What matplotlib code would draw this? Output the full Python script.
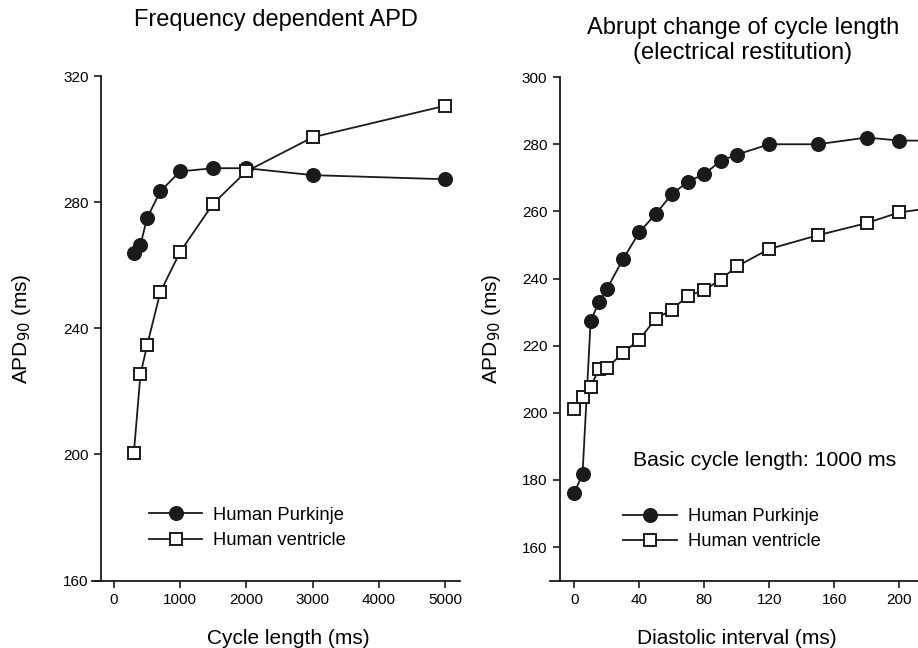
import matplotlib
matplotlib.use("Agg")
import matplotlib.pyplot as plt

plt.rcParams["font.family"] = ["Liberation Sans", "DejaVu Sans"]

# Frequency dependent APD
cycle_length = [300, 400, 500, 700, 1000, 1500, 2000, 3000, 5000]
purk_cl = [264, 266.5, 275, 283.5, 289.8, 290.8, 290.8, 288.6, 287.3]
vent_cl = [200.4, 225.4, 234.6, 251.5, 264.3, 279.6, 289.8, 300.6, 310.6]

# Electrical restitution
diastolic = [0, 5, 10, 15, 20, 30, 40, 50, 60, 70, 80, 90, 100, 120, 150, 180, 200, 250]
purk_di = [176.2, 181.7, 227.3, 232.9, 236.9, 245.8, 253.8, 259.2, 265.1, 268.9,
           271.1, 275.0, 276.9, 280.0, 280.0, 282.0, 281.1, 281.0]
vent_di = [201.2, 204.6, 207.7, 212.9, 213.3, 217.9, 221.8, 228.0, 230.7, 234.9,
           236.5, 239.7, 243.6, 248.8, 252.9, 256.5, 259.7, 263.0]

line_col = "#1a1a1a"
fs_tick = 11
fs_lab = 15
fs_title = 17
fs_leg = 13.2

fig = plt.figure(figsize=(9.18, 6.48), dpi=100)
ax1 = fig.add_axes([0.1002, 0.104, 0.401, 0.7785])
ax2 = fig.add_axes([0.599, 0.104, 0.401, 0.777])

def style(ax, spine_x):
    for s in ["top", "right"]:
        ax.spines[s].set_visible(False)
    for s in ["left", "bottom"]:
        ax.spines[s].set_linewidth(1.3)
        ax.spines[s].set_color(line_col)
    ax.spines["left"].set_position(("data", spine_x))
    ax.tick_params(direction="out", length=5, width=1.2, color=line_col,
                   labelsize=fs_tick, pad=4)

# left panel
ax1.plot(cycle_length, purk_cl, "-o", color=line_col, lw=1.3, ms=9.8,
         mfc=line_col, mec=line_col, label="Human Purkinje", zorder=3)
ax1.plot(cycle_length, vent_cl, "-s", color=line_col, lw=1.3, ms=8.5,
         mfc="white", mec=line_col, mew=1.4, label="Human ventricle", zorder=4)
ax1.set_xlim(-332, 5227)
ax1.set_ylim(160, 320)
ax1.set_xticks([0, 1000, 2000, 3000, 4000, 5000])
ax1.set_yticks([160, 200, 240, 280, 320])
style(ax1, -196)
ax1.set_title("Frequency dependent APD", fontsize=fs_title, pad=36, x=0.5)
ax1.set_xlabel("Cycle length (ms)", fontsize=fs_lab, labelpad=16, x=0.533)
ax1.set_ylabel("APD$_{90}$ (ms)", fontsize=fs_lab)
ax1.yaxis.set_label_coords(-0.16, 0.5)
ax1.legend(loc="upper left", bbox_to_anchor=(0.11, 0.179), frameon=False,
           fontsize=fs_leg, handlelength=2.9, handletextpad=0.6, labelspacing=0.45)

# right panel
ax2.plot(diastolic, purk_di, "-o", color=line_col, lw=1.3, ms=9.8,
         mfc=line_col, mec=line_col, label="Human Purkinje", zorder=3)
ax2.plot(diastolic, vent_di, "-s", color=line_col, lw=1.3, ms=8.2,
         mfc="white", mec=line_col, mew=1.4, label="Human ventricle", zorder=4)
ax2.set_xlim(-15.1, 211.6)
ax2.set_ylim(150, 300)
ax2.set_xticks([0, 40, 80, 120, 160, 200])
ax2.set_yticks([160, 180, 200, 220, 240, 260, 280, 300])
style(ax2, -9)
ax2.set_title("Abrupt change of cycle length\n(electrical restitution)",
              fontsize=fs_title, pad=13, x=0.524, linespacing=1.2)
ax2.set_xlabel("Diastolic interval (ms)", fontsize=fs_lab, labelpad=16, x=0.508)
ax2.set_ylabel("APD$_{90}$ (ms)", fontsize=fs_lab)
ax2.yaxis.set_label_coords(-0.128, 0.5)
ax2.text(0.2255, 0.2386, "Basic cycle length: 1000 ms", transform=ax2.transAxes,
         fontsize=15.3, va="center")
ax2.legend(loc="upper left", bbox_to_anchor=(0.155, 0.177), frameon=False,
           fontsize=fs_leg, handlelength=2.9, handletextpad=0.6, labelspacing=0.45)

fig.savefig("out.png", dpi=100)
